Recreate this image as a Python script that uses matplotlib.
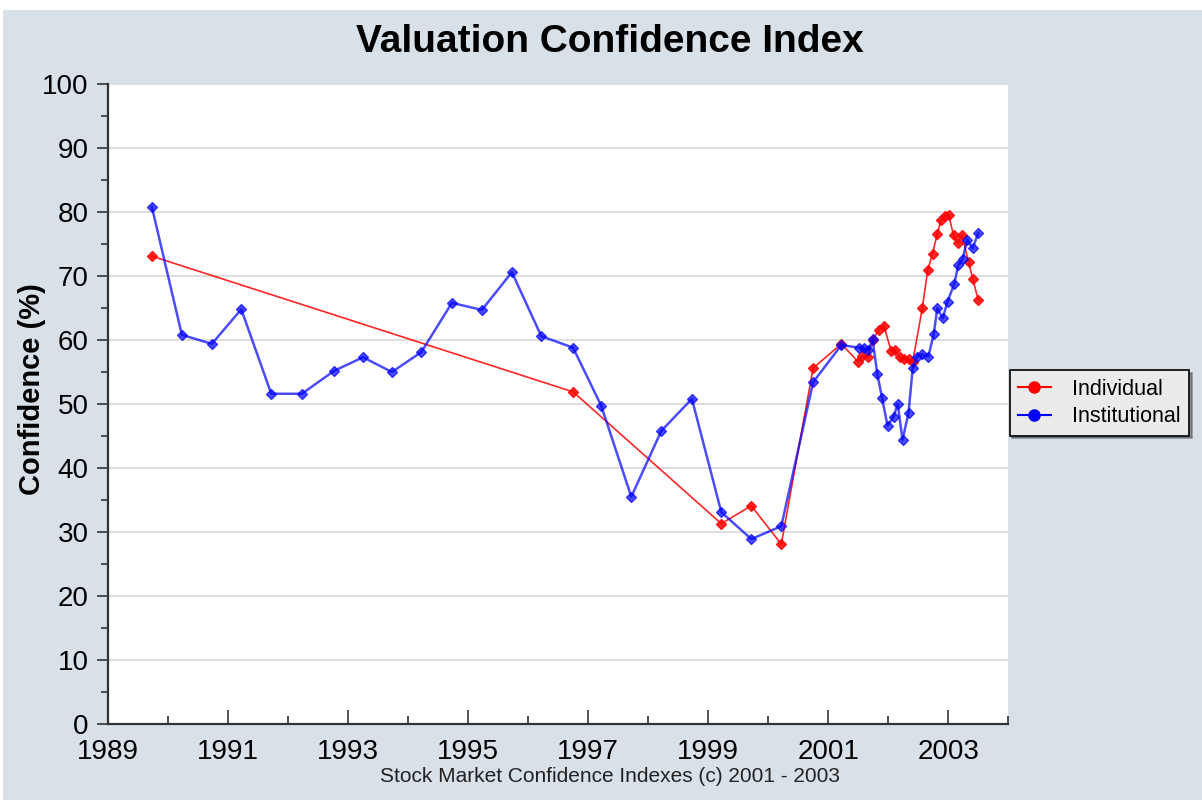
import numpy as np
import matplotlib.pyplot as plt
from matplotlib.lines import Line2D
from matplotlib.patches import Rectangle
from matplotlib.ticker import MultipleLocator

# Individual investors (red)
ind_x = [1989.73, 1996.75, 1999.22, 1999.72, 2000.22, 2000.75, 2001.22,
         2001.50, 2001.57, 2001.66, 2001.75, 2001.84, 2001.93, 2002.05,
         2002.12, 2002.19, 2002.26, 2002.34, 2002.41, 2002.57, 2002.66,
         2002.74, 2002.82, 2002.88, 2002.95, 2003.01, 2003.09, 2003.16,
         2003.23, 2003.34, 2003.41, 2003.50]
ind_y = [73.1, 51.9, 31.3, 34.1, 28.1, 55.6, 59.4,
         56.6, 57.5, 57.3, 60.0, 61.6, 62.2, 58.3,
         58.4, 57.3, 57.1, 57.0, 56.6, 65.0, 70.9,
         73.5, 76.6, 78.7, 79.3, 79.5, 76.4, 75.1,
         76.4, 72.2, 69.6, 66.3]

# Institutional investors (blue)
ins_x = [1989.73, 1990.23, 1990.73, 1991.22, 1991.72, 1992.23, 1992.77,
         1993.25, 1993.73, 1994.22, 1994.73, 1995.23, 1995.73, 1996.22,
         1996.75, 1997.22, 1997.72, 1998.22, 1998.73, 1999.22, 1999.72,
         2000.22, 2000.75, 2001.22, 2001.52, 2001.59, 2001.67, 2001.74,
         2001.82, 2001.90, 2001.99, 2002.09, 2002.16, 2002.24, 2002.34,
         2002.41, 2002.48, 2002.56, 2002.67, 2002.76, 2002.82, 2002.91,
         2002.99, 2003.10, 2003.17, 2003.24, 2003.32, 2003.41, 2003.50]
ins_y = [80.8, 60.8, 59.4, 64.8, 51.6, 51.6, 55.2,
         57.3, 55.0, 58.1, 65.8, 64.7, 70.6, 60.6,
         58.8, 49.7, 35.5, 45.8, 50.8, 33.1, 28.9,
         30.9, 53.4, 59.2, 58.8, 58.8, 58.4, 60.1,
         54.7, 50.9, 46.6, 48.0, 50.0, 44.4, 48.6,
         55.6, 57.4, 57.8, 57.4, 60.9, 65.0, 63.4,
         66.0, 68.7, 71.7, 72.6, 75.7, 74.3, 76.7]

year_ticks = [1989, 1991, 1993, 1995, 1997, 1999, 2001, 2003]

bg = '#d8e0e8'
plt.rcParams['font.family'] = ['Liberation Sans', 'DejaVu Sans']

fig = plt.figure(figsize=(12.02, 8), dpi=100, facecolor=bg)
# white strip at the top / left like the cropped screenshot
fig.patches.append(Rectangle((0, 0.987), 1, 0.013, transform=fig.transFigure,
                             facecolor='white', edgecolor='none', zorder=0))
fig.patches.append(Rectangle((0, 0), 0.0025, 1, transform=fig.transFigure,
                             facecolor='white', edgecolor='none', zorder=0))

ax = fig.add_axes([0.0899, 0.095, 0.7488, 0.80])
ax.set_facecolor('white')

ax.plot(ind_x, ind_y, color='#ff0000', lw=1.2, alpha=0.85,
        marker='D', ms=5, mfc='#ff0000', mec='#ff0000', zorder=3)
ax.plot(ins_x, ins_y, color='#0000ff', lw=1.8, alpha=0.7,
        marker='D', ms=5, mfc='#0000ff', mec='#0000ff', zorder=4)

ax.set_xlim(1989, 2004)
ax.set_ylim(0, 100)
ax.set_xticks(year_ticks)
ax.xaxis.set_minor_locator(MultipleLocator(1))
ax.yaxis.set_major_locator(MultipleLocator(10))
ax.yaxis.set_minor_locator(MultipleLocator(5))
ax.grid(axis='y', which='major', color='#d8d8d8', lw=1.2)
ax.set_axisbelow(True)

for s in ['top', 'right']:
    ax.spines[s].set_visible(False)
for s in ['left', 'bottom']:
    ax.spines[s].set_color('#333333')
    ax.spines[s].set_linewidth(1.6)

ax.tick_params(axis='x', which='major', direction='in', length=10, width=1.2,
               labelsize=20, pad=11, colors='#333333', labelcolor='black')
ax.tick_params(axis='x', which='minor', direction='in', length=6, width=1.2,
               colors='#333333')
ax.tick_params(axis='y', which='major', direction='out', length=8, width=1.2,
               labelsize=20, pad=6, colors='#333333', labelcolor='black')
ax.tick_params(axis='y', which='minor', direction='out', length=5, width=1.2,
               colors='#333333')

fig.text(0.5075, 0.948, 'Valuation Confidence Index', ha='center', va='center',
         fontsize=28, fontweight='bold')
fig.text(0.027, 0.514, 'Confidence (%)', rotation=90, ha='center', va='center',
         fontsize=21, fontweight='bold')
fig.text(0.5075, 0.030, 'Stock Market Confidence Indexes (c) 2001 - 2003',
         ha='center', va='center', fontsize=15, color='#222222')

handles = [Line2D([], [], color='#ff0000', marker='o', ms=8, lw=1.5),
           Line2D([], [], color='#0000ff', marker='o', ms=8, lw=1.5)]
leg = fig.legend(handles, ['Individual', 'Institutional'], loc='upper left',
                 bbox_to_anchor=(0.840, 0.5375), borderaxespad=0, fontsize=15.5,
                 frameon=True, fancybox=False, shadow=True,
                 facecolor='#ebebeb', edgecolor='black', framealpha=1,
                 handlelength=1.5, handletextpad=1.0, borderpad=0.4,
                 labelspacing=0.3)
leg.get_frame().set_linewidth(1.2)

fig.savefig('out.png', dpi=100, facecolor=bg)
